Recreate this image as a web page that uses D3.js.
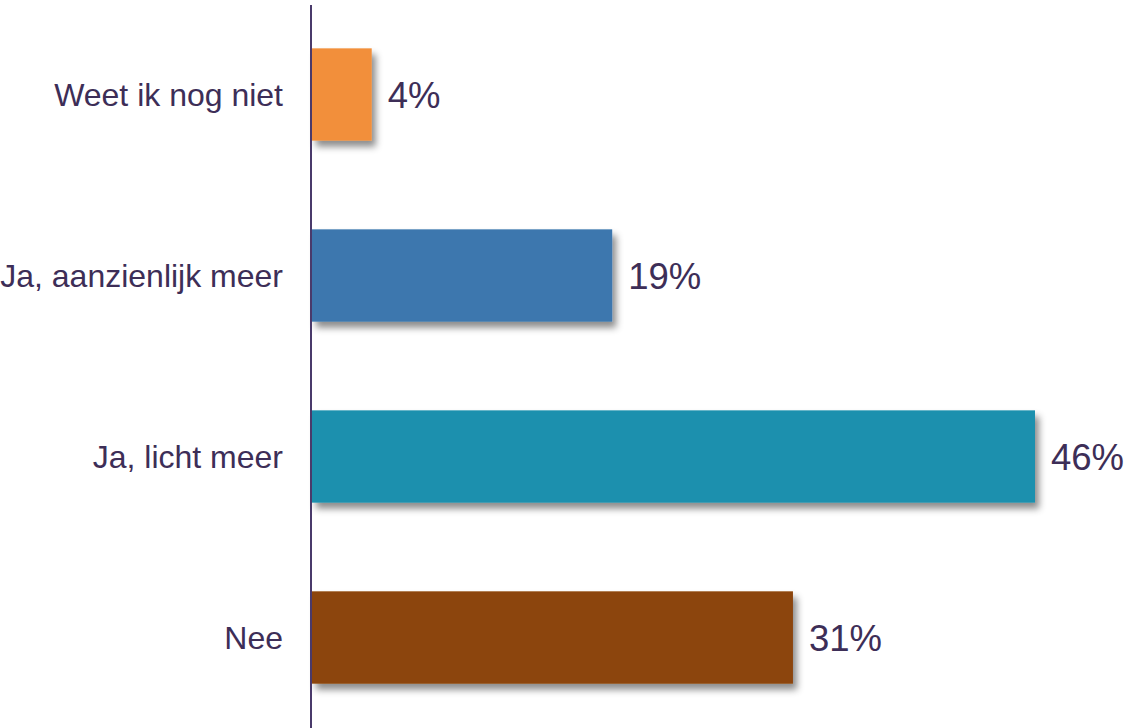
<!DOCTYPE html>
<html>
<head>
<meta charset="utf-8">
<script src="https://cdn.jsdelivr.net/npm/d3@7"></script>
<style>
  body { margin: 0; background: #fff; }
  text { font-family: "Liberation Sans", Arial, sans-serif; fill: #3d2e57; }
</style>
</head>
<body>
<div id="chart"></div>
<script>
// Data
const categories = ['Weet ik nog niet', 'Ja, aanzienlijk meer', 'Ja, licht meer', 'Nee'];
const values = [3.8, 19.1, 46.0, 30.6];
const colors = ['#f28f3b', '#3c77ae', '#1f90ae', '#8c4409'];

const width = 1134;
const height = 728;
const axisX = 311;

const data = categories.map((c, i) => ({ cat: c, value: values[i], color: colors[i] }));

// Scales
const x = d3.scaleLinear()
  .domain([0, 46])
  .range([axisX + 1, 1035]);

const y = d3.scaleBand()
  .domain(categories)
  .range([4, 728])
  .paddingInner(0.49)
  .paddingOuter(0.245);

const svg = d3.select('#chart')
  .append('svg')
  .attr('width', width)
  .attr('height', height);

// drop shadow under the bars
const defs = svg.append('defs');
const filter = defs.append('filter')
  .attr('id', 'shadow')
  .attr('x', '-10%').attr('y', '-10%')
  .attr('width', '130%').attr('height', '140%');
filter.append('feDropShadow')
  .attr('dx', 4)
  .attr('dy', 6)
  .attr('stdDeviation', 3.5)
  .attr('flood-color', '#000')
  .attr('flood-opacity', 0.45);

// Bars
svg.selectAll('.bar')
  .data(data)
  .enter()
  .append('rect')
  .attr('class', 'bar')
  .attr('x', x(0))
  .attr('y', d => y(d.cat))
  .attr('width', d => x(d.value) - x(0))
  .attr('height', y.bandwidth())
  .attr('fill', d => d.color)
  .attr('filter', 'url(#shadow)');

// Value labels
svg.selectAll('.val')
  .data(data)
  .enter()
  .append('text')
  .attr('class', 'val')
  .attr('x', d => x(d.value) + 16)
  .attr('y', d => y(d.cat) + y.bandwidth() / 2)
  .attr('dy', '0.36em')
  .style('font-size', '36.5px')
  .text(d => Math.round(d.value) + '%');

// Category labels
svg.selectAll('.cat')
  .data(data)
  .enter()
  .append('text')
  .attr('class', 'cat')
  .attr('x', axisX - 28)
  .attr('y', d => y(d.cat) + y.bandwidth() / 2)
  .attr('dy', '0.36em')
  .attr('text-anchor', 'end')
  .style('font-size', '32px')
  .text(d => d.cat);

// Vertical axis line
svg.append('line')
  .attr('x1', axisX).attr('x2', axisX)
  .attr('y1', 5).attr('y2', 728)
  .attr('stroke', '#4a3a6b')
  .attr('stroke-width', 2);
</script>
</body>
</html>
